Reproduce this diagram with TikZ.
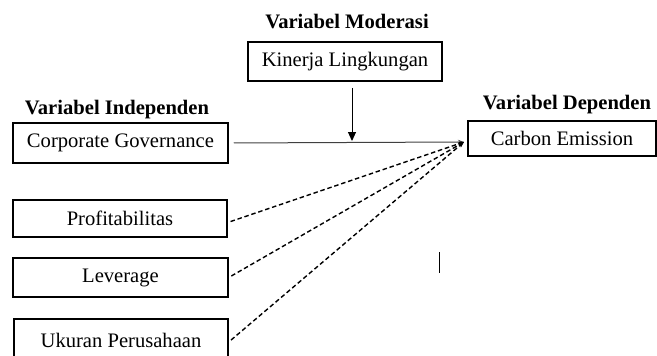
\documentclass[tikz,border=0pt]{standalone}
\usepackage{fontspec}
\setmainfont{Liberation Serif}
\usetikzlibrary{arrows.meta,positioning}
\tikzset{
    varbox/.style={draw, line width=1.5pt, inner sep=0pt, font=\fontsize{20.6}{24}\selectfont},
    vartitle/.style={inner sep=0pt, font=\fontsize{20.6}{24}\selectfont\bfseries},
    pathdash/.style={line width=1.4pt, dash pattern=on 4.5pt off 2.8pt, shorten <=3pt, -{Stealth[length=6pt,width=4.5pt]}},
    pathsolid/.style={line width=1pt, black!75, shorten <=5pt, -{Stealth[length=6pt,width=4.5pt]}}
}

\begin{document}
\begin{tikzpicture}[x=1pt,y=-1pt]
            \useasboundingbox (0,0) rectangle (657,356);
            \clip (0,0) rectangle (657,356);

            \node[vartitle] (tmod) at (347,22) {Variabel Moderasi};
            \node[vartitle] (tind) at (117,110) {Variabel Independen};
            \node[vartitle] (tdep) at (567,105) {Variabel Dependen};

            \node[varbox, minimum width=194pt, minimum height=39pt] (kin) at (345,61.5) {Kinerja Lingkungan};
            \node[varbox, minimum width=215pt, minimum height=40pt] (gov) at (120.5,143) {Corporate Governance};
            \node[varbox, minimum width=188pt, minimum height=35pt] (carb) at (562,138.5) {Carbon Emission};
            \node[varbox, minimum width=214pt, minimum height=37pt] (prof) at (120,218.5) {Profitabilitas};
            \node[varbox, minimum width=215pt, minimum height=39pt] (lev) at (120.5,277.5) {Leverage};
            \node[varbox, minimum width=214pt, minimum height=42pt] (uk) at (121,340) {Ukuran Perusahaan};

            \coordinate (hub) at (464,142);
            \coordinate (modtip) at (352,141);

            \draw[pathsolid] (gov.east) -- (hub);
            \draw[pathdash] ([yshift=-4pt]prof.east) -- (hub);
            \draw[pathdash] (lev.east) -- (hub);
            \draw[pathdash] ([yshift=-2pt]uk.east) -- (hub);
            \draw[line width=1pt, shorten <=6pt, -{Triangle[length=9pt,width=8pt]}] (kin.south -| modtip) -- (modtip);

            \draw[line width=1pt] (439,252) -- (439,273);
        \end{tikzpicture}
\end{document}
